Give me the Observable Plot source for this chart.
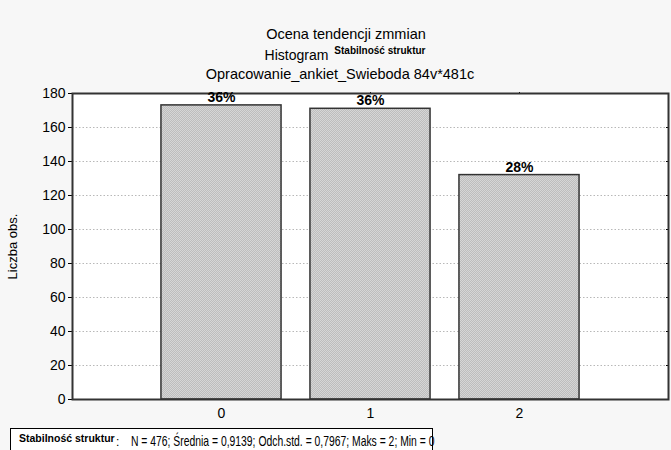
<!DOCTYPE html>
<html>
<head>
<meta charset="utf-8">
<script src="https://cdn.jsdelivr.net/npm/d3@7"></script>
<script src="https://cdn.jsdelivr.net/npm/@observablehq/plot@0.6"></script>
<style>
  html, body { margin: 0; padding: 0; background: #f7f7f7; }
  #wrap { position: relative; width: 671px; height: 450px; overflow: hidden; background: #f7f7f7;
          font-family: "Liberation Sans", Arial, sans-serif; color: #000; }
  .t { position: absolute; font-size: 14.5px; white-space: nowrap; transform: translate(-50%, -50%); }
  .sup { font-size: 10px; font-weight: bold; position: relative; top: -6px; margin-left: 6px; }
  #chart { position: absolute; left: 0; top: 80px; }
  #foot { position: absolute; left: 10px; top: 428px; width: 423px; height: 40px;
          border: 1.5px solid #000; background: #fff; box-sizing: border-box; }
  #foot .lab { position: absolute; left: 8px; top: 3px; font-size: 10.5px; font-weight: bold; white-space: nowrap; }
  #foot .colon { position: absolute; left: 105px; top: 6px; font-size: 12px; }
  #foot .stats { position: absolute; left: 120px; top: 4px; font-size: 14.5px; white-space: nowrap;
                 transform: scaleX(0.715); transform-origin: 0 0; }
</style>
</head>
<body>
<div id="wrap">
  <div class="t" style="left:346px; top:34px;">Ocena tendencji zmmian</div>
  <div class="t" style="left:345px; top:55px; font-size:14px;">Histogram<span class="sup">Stabilność struktur</span></div>
  <div class="t" style="left:340px; top:74px;">Opracowanie_ankiet_Swieboda 84v*481c</div>
  <div id="chart"></div>
  <div id="foot">
    <span class="lab">Stabilność struktur</span><span class="colon">:</span>
    <span class="stats" id="stats"></span>
  </div>
</div>
<script>
// Data
const categories = [0, 1, 2];
const counts = [173, 171, 132];
const yTicks = [0, 20, 40, 60, 80, 100, 120, 140, 160, 180];
const gridTicks = [20, 40, 60, 80, 100, 120, 140, 160];
const statsText = "N = 476; Średnia = 0,9139; Odch.std. = 0,7967; Maks = 2; Min = 0";

const total = d3.sum(counts);
const data = categories.map((c, i) => ({cat: c, n: counts[i], pct: Math.round(counts[i] / total * 100) + "%"}));

document.getElementById("stats").textContent = statsText;

const chart = Plot.plot({
  width: 671,
  height: 345,
  marginTop: 13,
  marginBottom: 26,
  marginLeft: 72,
  marginRight: 3,
  style: {fontFamily: "'Liberation Sans', Arial, sans-serif", fontSize: "14px", background: "transparent", color: "#000"},
  x: {domain: [-1, 3]},
  y: {domain: [0, 180]},
  marks: [
    Plot.frame({fill: "white", stroke: null}),
    Plot.ruleY(gridTicks, {stroke: "#b8b8b8", strokeDasharray: "1.5,2", strokeWidth: 1}),
    Plot.rectY(data, {x1: d => d.cat - 0.403, x2: d => d.cat + 0.403, y1: 0, y2: "n",
      fill: "url(#hatch)", stroke: "#333", strokeWidth: 1.5}),
    Plot.axisY({ticks: yTicks, tickSize: 4, tickPadding: 3, fontSize: 14, label: null}),
    Plot.text(["Liczba obs."], {frameAnchor: "left", textAnchor: "middle", dx: -60, rotate: -90, fontSize: 13}),
    Plot.axisY({ticks: yTicks, anchor: "right", tickSize: -3, tickFormat: () => "", label: null}),
    Plot.axisX({ticks: categories, tickSize: 0, tickPadding: 9, label: null, fontSize: 14, tickFormat: d3.format("d")}),
    Plot.axisX({ticks: categories, anchor: "top", tickSize: 2, tickFormat: () => "", label: null}),
    Plot.frame({stroke: "#333", strokeWidth: 2}),
    Plot.text(data, {x: "cat", y: "n", text: "pct", dy: -8, fontWeight: "bold", fontSize: 14})
  ]
});

// hatch pattern definition for bars
const ns = "http://www.w3.org/2000/svg";
const defs = document.createElementNS(ns, "defs");
defs.innerHTML = `<pattern id="hatch" patternUnits="userSpaceOnUse" width="2" height="2">
  <rect width="2" height="2" fill="#d6d6d6"></rect>
  <path d="M-0.5,0.5 l1,-1 M0,2 l2,-2 M1.5,2.5 l1,-1" stroke="#b2b2b2" stroke-width="0.7"></path>
</pattern>`;
chart.insertBefore(defs, chart.firstChild);

document.getElementById("chart").appendChild(chart);
</script>
</body>
</html>
